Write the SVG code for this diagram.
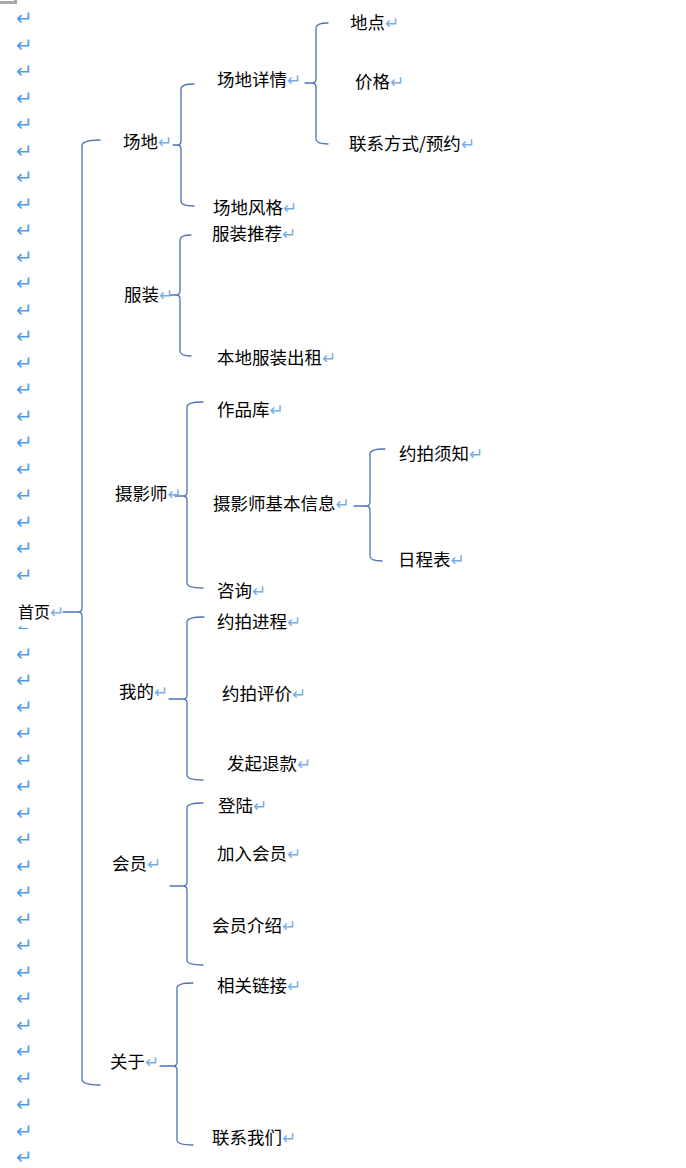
<svg xmlns="http://www.w3.org/2000/svg" width="686" height="1168" viewBox="0 0 686 1168">
<style>
.t{font-family:"Noto Sans CJK SC","Liberation Sans",sans-serif;font-size:17.5px;fill:#000}
.p{font-family:"DejaVu Sans",sans-serif;font-size:17px;fill:#78ade3}
.m{font-family:"DejaVu Sans",sans-serif;font-size:20px;fill:#4f9de8}
.b{fill:none;stroke:#4f72b8;stroke-width:1.3;stroke-linecap:round;stroke-linejoin:round}
</style>
<rect width="686" height="1168" fill="#fff"/>
<path d="M0,2.5 H15.5 V0" fill="none" stroke="#a8a8a8" stroke-width="3"/>
<g id="marks" class="m">
<text x="16" y="25">↵</text><text x="16" y="51.5">↵</text><text x="16" y="78">↵</text><text x="16" y="104.5">↵</text><text x="16" y="131">↵</text><text x="16" y="157.5">↵</text><text x="16" y="184">↵</text><text x="16" y="210.5">↵</text><text x="16" y="237">↵</text><text x="16" y="263.5">↵</text><text x="16" y="290">↵</text><text x="16" y="316.5">↵</text><text x="16" y="343">↵</text><text x="16" y="369.5">↵</text><text x="16" y="396">↵</text><text x="16" y="422.5">↵</text><text x="16" y="449">↵</text><text x="16" y="475.5">↵</text><text x="16" y="502">↵</text><text x="16" y="528.5">↵</text><text x="16" y="555">↵</text><text x="16" y="581.5">↵</text>
<text x="16" y="660.5">↵</text><text x="16" y="687">↵</text><text x="16" y="713.5">↵</text><text x="16" y="740">↵</text><text x="16" y="766.5">↵</text><text x="16" y="793">↵</text><text x="16" y="819.5">↵</text><text x="16" y="846">↵</text><text x="16" y="872.5">↵</text><text x="16" y="899">↵</text><text x="16" y="925.5">↵</text><text x="16" y="952">↵</text><text x="16" y="978.5">↵</text><text x="16" y="1005">↵</text><text x="16" y="1031.5">↵</text><text x="16" y="1058">↵</text><text x="16" y="1084.5">↵</text><text x="16" y="1111">↵</text><text x="16" y="1137.5">↵</text><text x="16" y="1164">↵</text>
</g>
<path d="M18.5,628.5 L21.5,626.5 M19,628.5 H28" fill="none" stroke="#4f9de8" stroke-width="1.2"/>
<g id="connectors" class="b">
<path d="M100,140 Q82,140 82,146 L82,608 Q82,612 78,612 L63,612 M78,612 Q82,612 82,616 L82,1079 Q82,1085 100,1085"/>
<path d="M194,84 Q181,84 181,89 L181,141 Q181,145 177,145 L173,145 M177,145 Q181,145 181,149 L181,201 Q181,206 194,206"/>
<path d="M328,23 Q316,23 316,28 L316,79 Q316,83 312,83 L305,83 M312,83 Q316,83 316,87 L316,139 Q316,144 328,144"/>
<path d="M191,235 Q180,235 180,240 L180,291 Q180,295 176,295 L170,295 M176,295 Q180,295 180,299 L180,351 Q180,356 191,356"/>
<path d="M203,402 Q187,402 187,407 L187,492 Q187,496 183,496 L175,496 M183,496 Q187,496 187,500 L187,583 Q187,588 203,588"/>
<path d="M385,449 Q370,449 370,454 L370,502 Q370,506 366,506 L354,506 M366,506 Q370,506 370,510 L370,556 Q370,561 382,561"/>
<path d="M204,617 Q187,617 187,622 L187,695 Q187,699 183,699 L169,699 M183,699 Q187,699 187,703 L187,775 Q187,780 203,780"/>
<path d="M203,803 Q187,803 187,808 L187,882 Q187,886 183,886 L170,886 M183,886 Q187,886 187,890 L187,960 Q187,965 203,965"/>
<path d="M193,983 Q177,983 177,988 L177,1062 Q177,1066 173,1066 L160,1066 M173,1066 Q177,1066 177,1070 L177,1140 Q177,1145 193,1145"/>
</g>
<g id="n-home"><text class="t" x="18" y="618" style="font-size:16px">首页<tspan class="p">↵</tspan></text></g>
<g id="n-venue"><text class="t" x="123" y="148">场地<tspan class="p">↵</tspan></text></g>
<g id="n-venue-detail"><text class="t" x="217" y="86">场地详情<tspan class="p">↵</tspan></text></g>
<g id="n-location"><text class="t" x="350" y="29">地点<tspan class="p">↵</tspan></text></g>
<g id="n-price"><text class="t" x="355" y="88">价格<tspan class="p">↵</tspan></text></g>
<g id="n-contact-book"><text class="t" x="349" y="150">联系方式/预约<tspan class="p">↵</tspan></text></g>
<g id="n-venue-style"><text class="t" x="213" y="214">场地风格<tspan class="p">↵</tspan></text></g>
<g id="n-costume"><text class="t" x="124" y="301">服装<tspan class="p">↵</tspan></text></g>
<g id="n-costume-rec"><text class="t" x="212" y="240">服装推荐<tspan class="p">↵</tspan></text></g>
<g id="n-costume-rent"><text class="t" x="217" y="364">本地服装出租<tspan class="p">↵</tspan></text></g>
<g id="n-photographer"><text class="t" x="115" y="500">摄影师<tspan class="p">↵</tspan></text></g>
<g id="n-portfolio"><text class="t" x="217" y="416">作品库<tspan class="p">↵</tspan></text></g>
<g id="n-photographer-info"><text class="t" x="213" y="510">摄影师基本信息<tspan class="p">↵</tspan></text></g>
<g id="n-notice"><text class="t" x="399" y="460">约拍须知<tspan class="p">↵</tspan></text></g>
<g id="n-schedule"><text class="t" x="398" y="566">日程表<tspan class="p">↵</tspan></text></g>
<g id="n-consult"><text class="t" x="217" y="597">咨询<tspan class="p">↵</tspan></text></g>
<g id="n-mine"><text class="t" x="119" y="698">我的<tspan class="p">↵</tspan></text></g>
<g id="n-progress"><text class="t" x="217" y="628">约拍进程<tspan class="p">↵</tspan></text></g>
<g id="n-review"><text class="t" x="222" y="700">约拍评价<tspan class="p">↵</tspan></text></g>
<g id="n-refund"><text class="t" x="227" y="770">发起退款<tspan class="p">↵</tspan></text></g>
<g id="n-member"><text class="t" x="112" y="870">会员<tspan class="p">↵</tspan></text></g>
<g id="n-login"><text class="t" x="218" y="812">登陆<tspan class="p">↵</tspan></text></g>
<g id="n-join"><text class="t" x="217" y="860">加入会员<tspan class="p">↵</tspan></text></g>
<g id="n-member-intro"><text class="t" x="212" y="932">会员介绍<tspan class="p">↵</tspan></text></g>
<g id="n-about"><text class="t" x="110" y="1068">关于<tspan class="p">↵</tspan></text></g>
<g id="n-links"><text class="t" x="217" y="992">相关链接<tspan class="p">↵</tspan></text></g>
<g id="n-contact-us"><text class="t" x="212" y="1144">联系我们<tspan class="p">↵</tspan></text></g>
</svg>
